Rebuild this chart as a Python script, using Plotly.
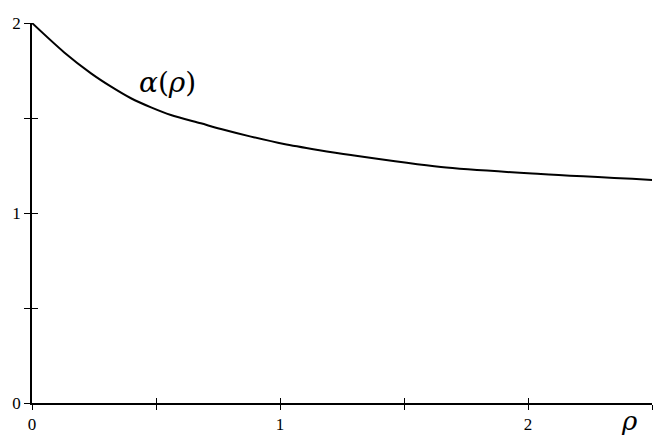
import plotly.graph_objects as go

rho = [0.0, 0.13, 0.238, 0.319, 0.399, 0.480, 0.560, 0.681, 0.762, 0.883, 1.016, 1.153, 1.286, 1.649, 2.052, 2.504]
alpha = [2.0, 1.845, 1.735, 1.665, 1.604, 1.556, 1.516, 1.472, 1.442, 1.402, 1.363, 1.332, 1.305, 1.242, 1.205, 1.174]
x_ticks = [0, 1, 2]
y_ticks = [0, 1, 2]

font = dict(family="Liberation Serif, Times New Roman, serif", size=17, color="black")

fig = go.Figure()
fig.add_trace(go.Scatter(x=rho, y=alpha, mode="lines", line=dict(color="black", width=2, shape="spline", smoothing=0.8),
                         showlegend=False, hoverinfo="skip"))
# invisible trace for the overlay axes
fig.add_trace(go.Scatter(x=[0], y=[0], xaxis="x2", yaxis="y2", mode="markers", marker=dict(opacity=0),
                         showlegend=False, hoverinfo="skip"))

common = dict(showgrid=False, zeroline=False, tickcolor="black", tickwidth=1, automargin=False)
fig.update_layout(
    width=656, height=435,
    margin=dict(l=24, r=12, t=15, b=40, autoexpand=False),
    plot_bgcolor="white", paper_bgcolor="white",
    font=font,
    xaxis=dict(range=[0, 2.5], tickvals=x_ticks, ticks="outside", ticklen=5, showline=True, linecolor="black",
               linewidth=1.5, minor=dict(dtick=0.5, ticks="outside", ticklen=5, tickcolor="black"),
               tickfont=font, **common),
    yaxis=dict(range=[0, 2], tickvals=y_ticks, ticks="outside", ticklen=6, showline=True, linecolor="black",
               linewidth=1.5, minor=dict(dtick=0.5, ticks="outside", ticklen=6, tickcolor="black"),
               tickfont=font, **common),
    xaxis2=dict(range=[0, 2.5], overlaying="x", anchor="y", side="bottom", tickvals=[0, 1, 2],
                ticks="inside", ticklen=5, showticklabels=False,
                minor=dict(dtick=0.5, ticks="inside", ticklen=5, tickcolor="black"), **common),
    yaxis2=dict(range=[0, 2], overlaying="y", anchor="x", side="left", tickvals=[0, 1, 2],
                ticks="inside", ticklen=6, showticklabels=False,
                minor=dict(dtick=0.5, ticks="inside", ticklen=6, tickcolor="black"), **common),
    annotations=[
        dict(x=(166 - 31) / 620, y=(403 - 82) / 380, xref="paper", yref="paper",
             text="<i>α</i>(<i>ρ</i>)", showarrow=False, xanchor="center", yanchor="middle",
             font=dict(family="DejaVu Serif, serif", size=28, color="black")),
        dict(x=(628 - 31) / 620, y=-(421 - 403) / 380, xref="paper", yref="paper",
             text="<i>ρ</i>", showarrow=False, xanchor="center", yanchor="middle",
             font=dict(family="DejaVu Serif, serif", size=26, color="black")),
    ],
)
fig.write_html("out.html")
